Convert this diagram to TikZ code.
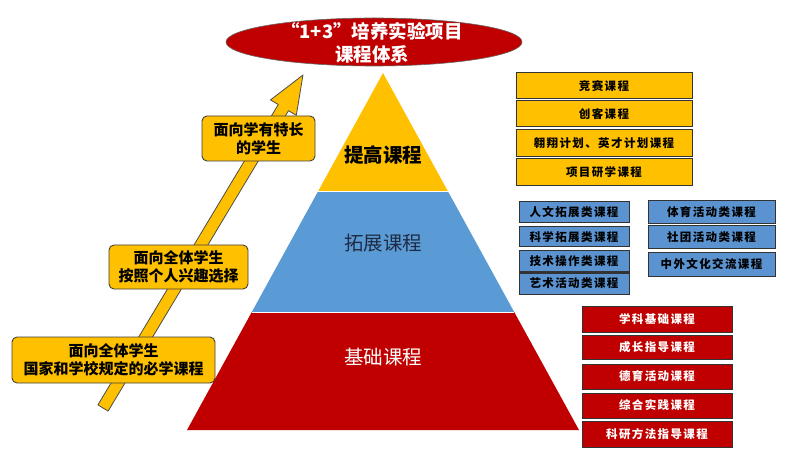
\documentclass[tikz,border=0pt]{standalone}
\usepackage{fontspec}
\usetikzlibrary{shapes.geometric}
\setmainfont{Noto Sans CJK SC}
\newfontfamily\boxfont{Noto Sans CJK SC}[LetterSpace=12]
\definecolor{yel}{HTML}{FFC000}
\definecolor{pblue}{HTML}{5B9BD5}
\definecolor{bblue}{HTML}{5A93CF}
\definecolor{dred}{HTML}{C00000}
\definecolor{navy}{HTML}{1F2A44}
\begin{document}
\begin{tikzpicture}[x=1pt,y=-1pt,
  callout/.style={draw=black!75, fill=yel, rounded corners=5pt, line width=0.9pt,
    align=center, inner sep=0pt, font=\bfseries\fontsize{15}{18}\selectfont},
  listbox/.style={draw=black!80, line width=1pt, inner sep=0pt,
    font=\boxfont\bfseries\fontsize{11.5}{13}\selectfont},
  ybox/.style={listbox, fill=yel, text=black, minimum width=176pt},
  bbox/.style={listbox, fill=bblue, text=black},
  rbox/.style={listbox, fill=dred, text=white, minimum width=150pt},
  tierlabel/.style={font=\fontsize{19.5}{22}\selectfont, inner sep=0pt}]
\useasboundingbox (0,0) rectangle (790,449);
\fill[white] (0,0) rectangle (790,449);

% pyramid
\coordinate (apex) at (383,73);
\coordinate (yl) at (317.7,192); \coordinate (yr) at (448.3,192);
\coordinate (bl) at (251.8,312); \coordinate (br) at (514.2,312);
\coordinate (basel) at (187,430); \coordinate (baser) at (579,430);
\fill[yel] (apex) -- (yr) -- (yl) -- cycle;
\fill[pblue] (yl) -- (yr) -- (br) -- (bl) -- cycle;
\fill[dred] (bl) -- (br) -- (baser) -- (basel) -- cycle;
\draw[white, line width=1pt] (yl) -- (yr) (bl) -- (br);
\node[tierlabel, font=\bfseries\fontsize{19.5}{22}\selectfont, text=black] (t1) at (383,155) {提高课程};
\node[tierlabel, text=navy] (t2) at (383,243) {拓展课程};
\node[tierlabel, text=white] (t3) at (383,357) {基础课程};

% title ellipse
\node[ellipse, draw=black!60, line width=0.6pt, fill=dred, minimum width=296pt, minimum height=48pt, inner sep=0pt] (title) at (374,42) {};
\node[text=white, font=\bfseries\fontsize{18.5}{23}\selectfont, align=center, inner sep=0pt] (titletext) at (372,43) {“1+3”培养实验项目\\课程体系};

% big arrow
\filldraw[fill=yel, draw=black!70, line width=0.8pt, line join=round]
  (97.9,404.9) -- (278.3,104.5) -- (270.5,99.9) -- (303,75) -- (296.3,115.3) -- (288.5,110.7) -- (108.1,411.1) -- cycle;

% callouts
\node[callout, minimum width=113pt, minimum height=45pt] (c1) at (258.5,138.5) {面向学有特长\\的学生};
\node[callout, minimum width=139pt, minimum height=44pt] (c2) at (178.5,267) {面向全体学生\\按照个人兴趣选择};
\node[callout, minimum width=203pt, minimum height=46pt] (c3) at (113.5,360) {面向全体学生\\国家和学校规定的必学课程};

% yellow list
\node[ybox, minimum height=26pt] (y1) at (604,86) {竞赛课程};
\node[ybox, minimum height=26pt] (y2) at (604,114) {创客课程};
\node[ybox, minimum height=27pt] (y3) at (604,143.5) {翱翔计划、英才计划课程};
\node[ybox, minimum height=27pt] (y4) at (604,172.5) {项目研学课程};

% blue list
\node[bbox, minimum width=110pt, minimum height=21pt] (b1) at (574,212.5) {人文拓展类课程};
\node[bbox, minimum width=110pt, minimum height=20pt] (b2) at (574,237) {科学拓展类课程};
\node[bbox, minimum width=110pt, minimum height=21pt] (b3) at (574,261.5) {技术操作类课程};
\node[bbox, minimum width=110pt, minimum height=21pt] (b4) at (574,283.5) {艺术活动类课程};
\node[bbox, minimum width=127pt, minimum height=23pt] (b5) at (711.5,212.5) {体育活动类课程};
\node[bbox, minimum width=127pt, minimum height=23pt] (b6) at (711.5,237.5) {社团活动类课程};
\node[bbox, minimum width=127pt, minimum height=23pt] (b7) at (711.5,264.5) {中外文化交流课程};

% red list
\node[rbox, minimum height=26pt] (r1) at (657,319) {学科基础课程};
\node[rbox, minimum height=24pt] (r2) at (657,347) {成长指导课程};
\node[rbox, minimum height=25pt] (r3) at (657,376.5) {德育活动课程};
\node[rbox, minimum height=25pt] (r4) at (657,405.5) {综合实践课程};
\node[rbox, minimum height=26pt] (r5) at (657,434) {科研方法指导课程};
\end{tikzpicture}
\end{document}
